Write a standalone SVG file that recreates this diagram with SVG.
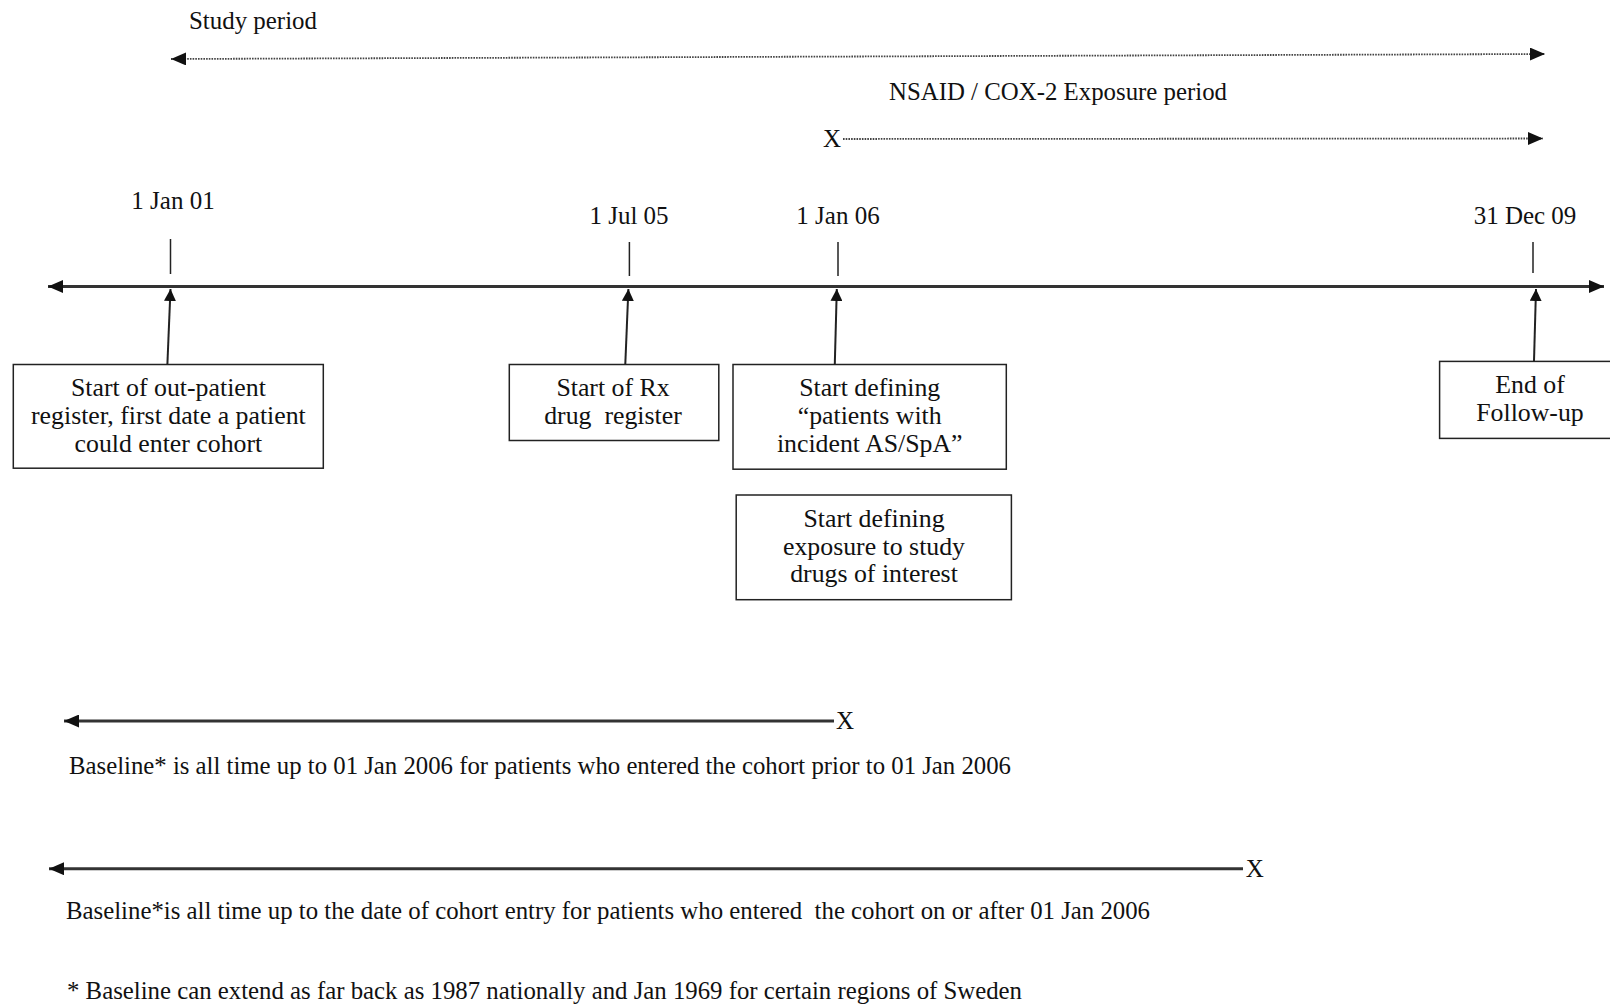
<svg xmlns="http://www.w3.org/2000/svg" width="1610" height="1006" viewBox="0 0 1610 1006">
<style>
text{font-family:"Liberation Serif","Times New Roman",serif;fill:#111;font-size:25px}
.c{text-anchor:middle}
.b{font-size:25.8px}
.box{fill:#fff;stroke:#222;stroke-width:1.5}
.axis{stroke:#333;stroke-width:3;fill:none}
.tick{stroke:#222;stroke-width:1.5}
.dot{stroke:#444;stroke-width:1.8;stroke-dasharray:1.6 1.1;fill:none}
.up{stroke:#222;stroke-width:2;fill:none}
</style>
<defs>
<marker id="ah" viewBox="0 0 15 13" refX="15" refY="6.5" markerWidth="15" markerHeight="13" markerUnits="userSpaceOnUse" orient="auto-start-reverse"><path d="M0,0L15,6.5L0,13z" fill="#111"/></marker>
<marker id="ahs" viewBox="0 0 12 12" refX="12" refY="6" markerWidth="12" markerHeight="12" markerUnits="userSpaceOnUse" orient="auto-start-reverse"><path d="M0,0L12,6L0,12z" fill="#111"/></marker>
</defs>

<g id="study-period">
<text x="189" y="29" textLength="128" lengthAdjust="spacingAndGlyphs">Study period</text>
</g>
<g id="exposure-period">
<text x="889" y="100" textLength="338" lengthAdjust="spacingAndGlyphs">NSAID / COX-2 Exposure period</text>
<text class="c" x="832" y="147">X</text>
</g>

<g id="date-labels">
<text class="c" x="173" y="209">1 Jan 01</text>
<text class="c" x="629" y="224">1 Jul 05</text>
<text class="c" x="838" y="224">1 Jan 06</text>
<text class="c" x="1525" y="224">31 Dec 09</text>
</g>

<g id="connectors">
<line class="dot" x1="171" y1="59" x2="1545" y2="54" marker-start="url(#ah)" marker-end="url(#ah)"/>
<line class="dot" x1="843" y1="139" x2="1543" y2="138.5" marker-end="url(#ah)"/>
<line class="axis" x1="48" y1="286.5" x2="1604" y2="286.5" marker-start="url(#ah)" marker-end="url(#ah)"/>
<line class="tick" x1="170.5" y1="239" x2="170.5" y2="274"/>
<line class="tick" x1="629.4" y1="242" x2="629.4" y2="276"/>
<line class="tick" x1="838" y1="242" x2="838" y2="276"/>
<line class="tick" x1="1533" y1="242" x2="1533" y2="273"/>
<line class="up" x1="167.4" y1="364" x2="170.5" y2="289" marker-end="url(#ahs)"/>
<line class="up" x1="625.3" y1="364" x2="628.4" y2="289" marker-end="url(#ahs)"/>
<line class="up" x1="834.8" y1="364" x2="836.8" y2="289" marker-end="url(#ahs)"/>
<line class="up" x1="1534" y1="361" x2="1536" y2="289" marker-end="url(#ahs)"/>
<line class="axis" x1="64" y1="721" x2="834" y2="721" marker-start="url(#ah)"/>
<line class="axis" x1="49" y1="868.7" x2="1243" y2="868.7" marker-start="url(#ah)"/>
</g>

<g id="node-outpatient">
<rect class="box" x="13.3" y="364.5" width="310" height="103.7"/>
<text class="c b" x="168.4" y="396">Start of out-patient</text>
<text class="c b" x="168.4" y="424">register, first date a patient</text>
<text class="c b" x="168.4" y="452">could enter cohort</text>
</g>
<g id="node-rx">
<rect class="box" x="509.3" y="364.5" width="209.5" height="76"/>
<text class="c b" x="613" y="396">Start of Rx</text>
<text class="c b" x="613" y="424" xml:space="preserve">drug  register</text>
</g>
<g id="node-incident">
<rect class="box" x="733" y="364.5" width="273.3" height="104.7"/>
<text class="c b" x="869.7" y="396">Start defining</text>
<text class="c b" x="869.7" y="424">“patients with</text>
<text class="c b" x="869.7" y="452">incident AS/SpA”</text>
</g>
<g id="node-followup">
<rect class="box" x="1439.6" y="361.4" width="175" height="77"/>
<text class="c b" x="1530" y="393">End of</text>
<text class="c b" x="1530" y="421">Follow-up</text>
</g>
<g id="node-exposure">
<rect class="box" x="736.2" y="495" width="275.2" height="104.7"/>
<text class="c b" x="874" y="527">Start defining</text>
<text class="c b" x="874" y="555">exposure to study</text>
<text class="c b" x="874" y="582">drugs of interest</text>
</g>

<g id="baseline-1">
<text class="c" x="845" y="729">X</text>
<text x="69" y="774" textLength="942" lengthAdjust="spacingAndGlyphs">Baseline* is all time up to 01 Jan 2006 for patients who entered the cohort prior to 01 Jan 2006</text>
</g>
<g id="baseline-2">
<text class="c" x="1254.7" y="877">X</text>
<text x="66" y="919" textLength="1084" lengthAdjust="spacingAndGlyphs" xml:space="preserve">Baseline*is all time up to the date of cohort entry for patients who entered  the cohort on or after 01 Jan 2006</text>
</g>
<g id="footnote">
<text x="67" y="999" textLength="955" lengthAdjust="spacingAndGlyphs">* Baseline can extend as far back as 1987 nationally and Jan 1969 for certain regions of Sweden</text>
</g>
</svg>
